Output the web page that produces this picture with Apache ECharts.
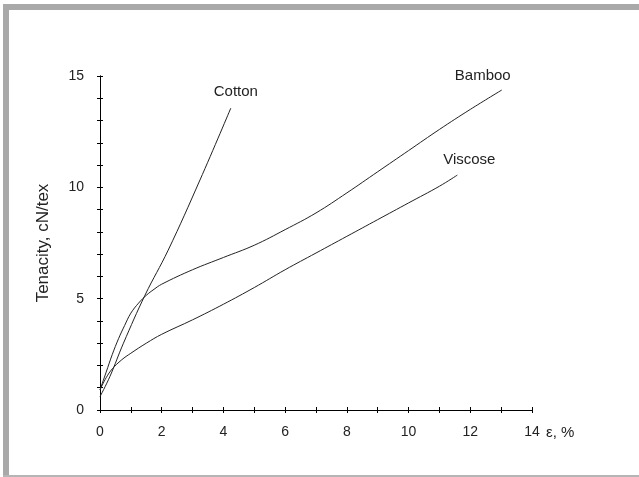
<!DOCTYPE html>
<html><head><meta charset="utf-8">
<script src="https://cdn.jsdelivr.net/npm/echarts@6/dist/echarts.min.js"></script>
<style>html,body{margin:0;padding:0;background:#fff}#c{width:639px;height:477px}</style>
</head><body><div id="c"></div>
<script>
const xTicks = [0, 2, 4, 6, 8, 10, 12, 14];
const yTicks = [0, 5, 10, 15];
const cottonX = [0, 0.32, 0.76, 1.46, 2.21, 3.24, 4.24];
const cottonY = [0.6, 1.5, 3.0, 5.16, 7.18, 10.33, 13.56];
const bambooX = [0, 0.2, 0.4, 0.6, 0.8, 1.0, 1.25, 1.5, 1.75, 2, 3, 4, 5, 6, 7, 8, 9, 10, 11, 12, 13.02];
const bambooY = [0.9, 1.7, 2.5, 3.2, 3.8, 4.35, 4.8, 5.15, 5.42, 5.65, 6.3, 6.85, 7.4, 8.1, 8.85, 9.75, 10.7, 11.65, 12.6, 13.5, 14.37];
const viscoseX = [0, 0.2, 0.4, 0.7, 1, 1.5, 2, 3, 4, 5, 6, 7, 8, 9, 10, 11, 11.58];
const viscoseY = [0.9, 1.45, 1.85, 2.25, 2.55, 3.0, 3.4, 4.05, 4.75, 5.5, 6.3, 7.05, 7.8, 8.55, 9.3, 10.05, 10.55];
const names = ['Cotton', 'Bamboo', 'Viscose'];
const labelOffsets = [[5, -16], [-19, -14], [12, -15]];

const font = 'Liberation Sans, Arial, sans-serif';
function pairs(xs, ys) { return xs.map((x, i) => [x, ys[i]]); }
function endMark(xs, ys, idx) {
  const n = xs.length - 1;
  return {
    symbol: 'circle', symbolSize: 0, silent: true,
    label: { show: true, position: 'inside', offset: labelOffsets[idx], formatter: names[idx],
      color: '#222', fontSize: 15, fontFamily: font },
    data: [{ coord: [xs[n], ys[n]] }]
  };
}
const chart = echarts.init(document.getElementById('c'), null, { renderer: 'canvas' });
const baseX = {
  type: 'value', min: xTicks[0], max: xTicks[xTicks.length - 1], interval: 2,
  axisLine: { lineStyle: { color: '#000', width: 1 } },
  splitLine: { show: false },
  minorTick: { show: true, splitNumber: 2, length: 3, lineStyle: { color: '#000' } },
};
const baseY = {
  type: 'value', min: yTicks[0], max: yTicks[yTicks.length - 1], interval: 5,
  axisLine: { lineStyle: { color: '#000', width: 1 } },
  splitLine: { show: false },
  minorTick: { show: true, splitNumber: 5, length: 3, lineStyle: { color: '#000' } },
};
const series = [[cottonX, cottonY], [bambooX, bambooY], [viscoseX, viscoseY]].map((s, i) => ({
  type: 'line', name: names[i], data: pairs(s[0], s[1]), smooth: 0.4, showSymbol: false, symbol: 'none',
  lineStyle: { color: '#222', width: 1 }, markPoint: endMark(s[0], s[1], i)
}));
chart.setOption({
  animation: false,
  backgroundColor: '#fff',
  grid: { left: 100, right: 107, top: 76, bottom: 67, containLabel: false },
  xAxis: [
    Object.assign({}, baseX, {
      position: 'bottom',
      name: 'ε, %', nameLocation: 'end', nameGap: 14,
      nameTextStyle: { color: '#222', fontSize: 15, fontFamily: font, verticalAlign: 'top', padding: [15, 0, 0, 0] },
      axisTick: { show: true, inside: false, length: 3, lineStyle: { color: '#000' } },
      axisLabel: { color: '#222', fontSize: 14, fontFamily: font, margin: 15 },
    }),
    Object.assign({}, baseX, {
      position: 'bottom',
      axisTick: { show: true, inside: true, length: 3, lineStyle: { color: '#000' } },
      axisLabel: { show: false },
    })
  ],
  yAxis: [
    Object.assign({}, baseY, {
      position: 'left',
      name: 'Tenacity, cN/tex', nameLocation: 'middle', nameGap: 48,
      nameTextStyle: { color: '#222', fontSize: 17, fontFamily: font },
      axisTick: { show: true, inside: false, length: 3, lineStyle: { color: '#000' } },
      axisLabel: { color: '#222', fontSize: 14, fontFamily: font, margin: 16 },
    }),
    Object.assign({}, baseY, {
      position: 'left',
      axisTick: { show: true, inside: true, length: 3, lineStyle: { color: '#000' } },
      axisLabel: { show: false },
    })
  ],
  graphic: [
    { type: 'rect', shape: { x: 3, y: 4, width: 640, height: 6 }, style: { fill: '#a9a9a9' }, silent: true },
    { type: 'rect', shape: { x: 3, y: 4, width: 6, height: 473 }, style: { fill: '#a9a9a9' }, silent: true },
    { type: 'rect', shape: { x: 3, y: 475, width: 640, height: 2 }, style: { fill: '#b5b5b5' }, silent: true }
  ],
  series: series
});
</script></body></html>
